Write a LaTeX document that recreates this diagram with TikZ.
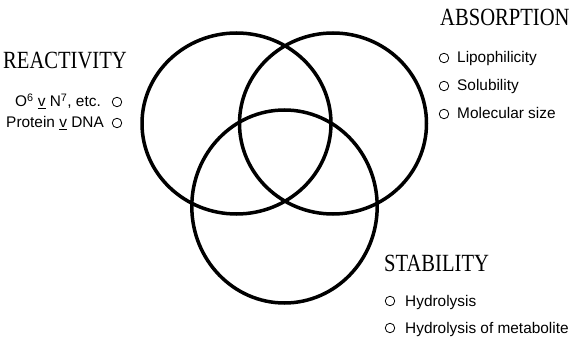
\documentclass[tikz,border=0pt]{standalone}
\usepackage{fontspec}
\usepackage{graphicx}
\setmainfont{Liberation Serif}
\setsansfont{Liberation Sans}
\usepackage{tikz}
\usetikzlibrary{positioning}

\newcommand{\tallcaps}[1]{\scalebox{1}[1.2]{#1}}

\tikzset{
  ring/.style={draw, line width=3.5pt},
  heading/.style={font=\fontsize{20.6}{24}\selectfont, inner sep=0pt},
  factor/.style={font=\sffamily\fontsize{15.4}{18}\selectfont, inner sep=0pt},
  dot/.style={circle, draw, line width=0.8pt, minimum size=9.5pt, inner sep=0pt},
}

\begin{document}
\begin{tikzpicture}[x=1pt,y=-1pt]
  \useasboundingbox[fill=white] (0,0) rectangle (571,342);

  \draw[ring] (236.5,123.5) ellipse [x radius=94.5, y radius=90.5];
  \draw[ring] (333,123.5) ellipse [x radius=93.5, y radius=90.5];
  \draw[ring] (284.5,206.5) ellipse [x radius=92.7, y radius=96.5];

  \node[heading, anchor=base west] (reac) at (3,69) {\tallcaps{REACTIVITY}};
  \node[dot] (r1) at (117,102) {};
  \node[dot] (r2) at (117,123) {};
  \node[factor, anchor=base east] (r1t) at (101,107) {O\textsuperscript{6} \underline{v} N\textsuperscript{7}, etc.};
  \node[factor, anchor=base east] (r2t) at (104,128) {Protein \underline{v} DNA};

  \node[heading, anchor=base west] (abs) at (440,26) {\tallcaps{ABSORPTION}};
  \node[dot] (a1) at (444,58) {};
  \node[dot] (a2) at (444,86) {};
  \node[dot] (a3) at (444,114) {};
  \node[factor, anchor=base west] (a1t) at (457,63) {Lipophilicity};
  \node[factor, anchor=base west] (a2t) at (457,91) {Solubility};
  \node[factor, anchor=base west] (a3t) at (457,119) {Molecular size};

  \node[heading, anchor=base west] (stab) at (384,272) {\tallcaps{STABILITY}};
  \node[dot] (s1) at (390,301) {};
  \node[dot] (s2) at (390,328) {};
  \node[factor, anchor=base west] (s1t) at (405,306) {Hydrolysis};
  \node[factor, anchor=base west] (s2t) at (405,333) {Hydrolysis of metabolite};

\end{tikzpicture}
\end{document}
